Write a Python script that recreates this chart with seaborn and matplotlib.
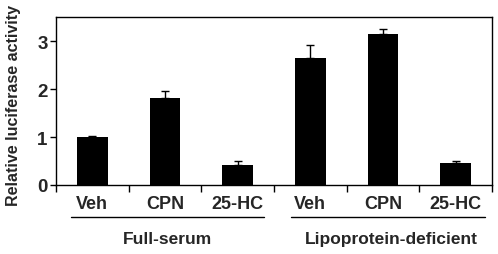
import matplotlib
matplotlib.use("Agg")
import matplotlib.pyplot as plt
import matplotlib.transforms as mtransforms
import seaborn as sns
import pandas as pd
import numpy as np

groups = ["Full-serum", "Full-serum", "Full-serum",
          "Lipoprotein-deficient", "Lipoprotein-deficient", "Lipoprotein-deficient"]
treatments = ["Veh", "CPN", "25-HC", "Veh", "CPN", "25-HC"]
values = [1.00, 1.81, 0.42, 2.65, 3.14, 0.46]
errors = [0.03, 0.15, 0.07, 0.26, 0.12, 0.05]
group_names = ["Full-serum", "Lipoprotein-deficient"]

sns.set_theme(style="ticks")
plt.rcParams['font.family'] = ['Liberation Sans', 'DejaVu Sans']
plt.rcParams['font.weight'] = 'bold'

df = pd.DataFrame({"key": [f"{g}|{t}" for g, t in zip(groups, treatments)],
                   "value": values})

fig = plt.figure(figsize=(4.98, 2.55), dpi=100)
ax = fig.add_axes([0.1124, 0.2706, 0.988 - 0.1124, 0.929 - 0.2706])

sns.barplot(data=df, x="key", y="value", order=list(df["key"]), color="black",
            width=0.42, saturation=1, errorbar=None, ax=ax,
            edgecolor="black", linewidth=0)

pos = np.arange(len(values))
ax.errorbar(pos, values, yerr=[np.zeros(len(errors)), errors], fmt="none",
            ecolor="black", elinewidth=1.0, capsize=3, capthick=1.0)

ax.set_xlim(-0.5, len(values) - 0.5)
ax.set_ylim(0, 3.5)
ax.set_yticks([0, 1, 2, 3])
ax.set_yticklabels(["0", "1", "2", "3"], fontsize=13.5, fontweight="bold")

ax.set_xticks(np.arange(-0.5, len(values), 1.0))
ax.set_xticklabels([])
ax.set_xticks(pos, minor=True)
ax.set_xticklabels(treatments, minor=True, fontsize=13, fontweight="bold")
ax.tick_params(axis="x", which="minor", length=0, pad=7)
ax.tick_params(axis="x", which="major", length=5, width=1, direction="out", color="black")
ax.tick_params(axis="y", length=4, width=1, direction="out", color="black", pad=2)

for s in ax.spines.values():
    s.set_visible(True)
    s.set_color("black")
    s.set_linewidth(1.0)

ax.set_xlabel("")
ax.set_ylabel("Relative luciferase activity", fontsize=11.5, fontweight="bold")
ax.yaxis.set_label_coords(-0.08, 0.48)

trans = mtransforms.blended_transform_factory(ax.transData, ax.transAxes)
line_spans = [(-0.3, 2.36), (2.73, 5.4)]
label_x = [1.03, 4.12]
for (x0, x1), lx, name in zip(line_spans, label_x, group_names):
    ax.plot([x0, x1], [-0.19, -0.19], color="black", lw=1.0, transform=trans, clip_on=False)
    ax.text(lx, -0.32, name, transform=trans, ha="center", va="center",
            fontsize=12.5, fontweight="bold")

fig.savefig("out.png", dpi=100)
